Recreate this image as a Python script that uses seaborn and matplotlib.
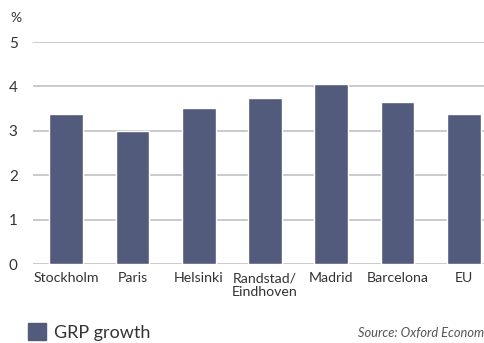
import matplotlib
matplotlib.use("Agg")
import matplotlib.pyplot as plt
import seaborn as sns
import pandas as pd
from matplotlib.patches import Patch

cities = ["Stockholm", "Paris", "Helsinki", "Randstad/\nEindhoven", "Madrid", "Barcelona", "EU"]
growth = [3.38, 3.0, 3.51, 3.74, 4.05, 3.65, 3.38]
yticks = [0, 1, 2, 3, 4, 5]

df = pd.DataFrame({"city": cities, "growth": growth})

sns.set_style("white")
plt.rcParams["font.family"] = ["Lato", "DejaVu Sans"]

bar_color = "#525b7b"
text_color = "#333333"

fig = plt.figure(figsize=(4.85, 3.43), dpi=100)
ax = fig.add_axes([33 / 485, 79 / 343, 1 - 33 / 485, 222 / 343])

sns.barplot(data=df, x="city", y="growth", color=bar_color, width=0.51,
            saturation=1, ax=ax, zorder=3)

ax.set_ylim(0, 5)
ax.set_xlim(-0.5, 6.32)
ax.set_yticks(yticks)
ax.yaxis.grid(True, color="#c6c6c6", linewidth=1.3, zorder=0)
ax.set_axisbelow(True)
for s in ax.spines.values():
    s.set_visible(False)
ax.set_xlabel("")
ax.set_ylabel("")
ax.tick_params(axis="x", length=0, pad=6, labelsize=10.2, labelcolor=text_color)
ax.tick_params(axis="y", length=0, pad=11, labelsize=11, labelcolor=text_color)

fig.text(10 / 485, 1 - 18 / 343, "%", fontsize=10, color=text_color, va="center")

fig.legend(handles=[Patch(color=bar_color)], labels=["GRP growth"],
           loc="center left", bbox_to_anchor=(12 / 485, 1 - 332 / 343),
           frameon=False, fontsize=13, handlelength=1.0, handleheight=1.1,
           handletextpad=0.45, labelcolor=text_color)

fig.text(358 / 485, 1 - 333 / 343, "Source: Oxford Economics", fontsize=9.3,
         style="italic", color="#555555", va="center")

fig.savefig("out.png", dpi=100)
